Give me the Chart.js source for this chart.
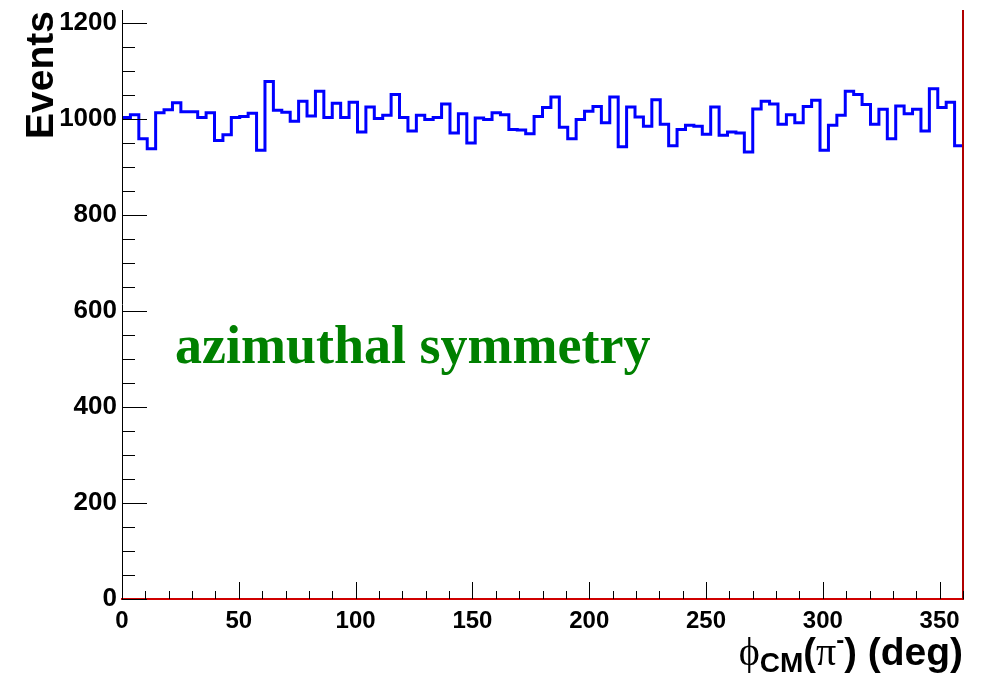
<!DOCTYPE html>
<html>
<head>
<meta charset="utf-8">
<script src="https://cdn.jsdelivr.net/npm/chart.js@4.4.1/dist/chart.umd.min.js"></script>
<style>
html,body{margin:0;padding:0;background:#fff;}
#wrap{width:984px;height:673px;position:relative;}
</style>
</head>
<body>
<div id="wrap"><canvas id="c" width="984" height="673"></canvas></div>
<script>
// ---- data ----
const xRange = [0, 360];           // phi_CM in degrees
const yRange = [0, 1227];
const xTickValues = [0, 50, 100, 150, 200, 250, 300, 350];
const yTickValues = [0, 200, 400, 600, 800, 1000, 1200];
const binContents = [
  1003, 1009, 959, 938, 1013, 1019, 1034, 1015, 1015, 1003,
  1013, 955, 967, 1003, 1005, 1012, 935, 1078, 1018, 1014,
  995, 1037, 1006, 1058, 1003, 1033, 1003, 1035, 973, 1025,
  1001, 1008, 1051, 1003, 975, 1008, 999, 1003, 1031, 971,
  1011, 950, 1002, 999, 1013, 1009, 978, 977, 969, 1005,
  1024, 1046, 983, 959, 999, 1016, 1026, 992, 1046, 942,
  1025, 1004, 985, 1040, 989, 944, 978, 987, 985, 968,
  1025, 966, 973, 971, 931, 1021, 1037, 1031, 989, 1009,
  992, 1026, 1039, 935, 987, 1008, 1058, 1051, 1030, 989,
  1020, 959, 1027, 1011, 1020, 975, 1063, 1024, 1035, 944
];
const yTitle = "Events";
const annotation = "azimuthal symmetry";
const annotationPos = {x: 22.7, y: 492};

// histogram step points built from bin edges
const nBins = binContents.length;
const binWidth = (xRange[1] - xRange[0]) / nBins;
const stepPoints = binContents.map((v, i) => ({x: xRange[0] + i * binWidth, y: v}));
stepPoints.push({x: xRange[1], y: binContents[nBins - 1]});

const SANS = "'Liberation Sans', Arial, Helvetica, sans-serif";
const SERIF = "'Liberation Serif', 'Times New Roman', 'DejaVu Serif', serif";

const decorPlugin = {
  id: 'decor',
  afterDraw(chart) {
    const ctx = chart.ctx;
    const xs = chart.scales.x, ys = chart.scales.y;
    const a = chart.chartArea;
    ctx.save();
    // right frame line (dark red)
    ctx.strokeStyle = '#b00000';
    ctx.lineWidth = 2;
    ctx.beginPath();
    ctx.moveTo(a.right, a.top);
    ctx.lineTo(a.right, a.bottom + 1);
    ctx.stroke();
    // ticks drawn inside (ROOT style)
    ctx.strokeStyle = '#000';
    ctx.lineWidth = 1;
    ctx.beginPath();
    for (let v = ys.min; v <= ys.max + 1e-9; v += 50) {
      const py = Math.round(ys.getPixelForValue(v)) + 0.5;
      const len = (v % 200 === 0) ? 25 : 13;
      ctx.moveTo(a.left, py);
      ctx.lineTo(a.left + len, py);
    }
    for (let v = xs.min; v <= xs.max + 1e-9; v += 10) {
      const px = Math.round(xs.getPixelForValue(v)) + 0.5;
      const len = (v % 50 === 0) ? 17 : 8;
      ctx.moveTo(px, a.bottom);
      ctx.lineTo(px, a.bottom - len);
    }
    ctx.stroke();
    // left axis line
    ctx.beginPath();
    ctx.moveTo(a.left + 0.5, a.top);
    ctx.lineTo(a.left + 0.5, a.bottom);
    ctx.stroke();

    // annotation text
    ctx.fillStyle = '#008000';
    ctx.font = "bold 54px " + SERIF;
    ctx.textAlign = 'left';
    ctx.textBaseline = 'alphabetic';
    ctx.fillText(annotation, xs.getPixelForValue(annotationPos.x), ys.getPixelForValue(annotationPos.y));

    // y title
    ctx.fillStyle = '#000';
    ctx.save();
    ctx.translate(53, a.top + 1);
    ctx.rotate(-Math.PI / 2);
    ctx.font = "bold 39px " + SANS;
    ctx.textAlign = 'right';
    ctx.textBaseline = 'alphabetic';
    ctx.fillText(yTitle, 0, 0);
    ctx.restore();

    // x title: phi_CM(pi^-) (deg), right aligned to frame
    const base = 665;
    const pieces = [
      {t: "\u03D5", f: "40px " + SERIF, dy: 0},
      {t: "CM", f: "bold 28px " + SANS, dy: 7},
      {t: "(", f: "bold 38px " + SANS, dy: 0},
      {t: "\u03C0", f: "40px " + SERIF, dy: 0},
      {t: "-", f: "bold 24px " + SANS, dy: -17},
      {t: ")", f: "bold 38px " + SANS, dy: 0},
      {t: " (deg)", f: "bold 39px " + SANS, dy: 0}
    ];
    let total = 0;
    pieces.forEach(p => { ctx.font = p.f; p.w = ctx.measureText(p.t).width; total += p.w; });
    let x = a.right - total;
    ctx.textAlign = 'left';
    pieces.forEach(p => { ctx.font = p.f; ctx.fillText(p.t, x, base + p.dy); x += p.w; });
    ctx.restore();
  }
};

new Chart(document.getElementById('c'), {
  type: 'line',
  data: {
    datasets: [{
      data: stepPoints,
      stepped: 'before',
      borderColor: '#0000ff',
      borderWidth: 3,
      pointRadius: 0,
      fill: false,
      tension: 0
    }]
  },
  options: {
    responsive: false,
    animation: false,
    layout: {padding: {top: 10, right: 21, left: 0, bottom: 0}},
    plugins: {legend: {display: false}, tooltip: {enabled: false}},
    scales: {
      x: {
        type: 'linear',
        min: xRange[0], max: xRange[1],
        afterFit(s) { s.height = 74; s.paddingLeft = 0; s.paddingRight = 0; },
        afterBuildTicks(s) { s.ticks = xTickValues.map(v => ({value: v})); },
        grid: {display: false, drawTicks: false},
        border: {display: true, color: '#d00000', width: 2},
        ticks: {
          padding: 8,
          color: '#000',
          font: {family: SANS, weight: 'bold', size: 24},
          maxRotation: 0,
          autoSkip: false,
          callback: v => String(v)
        }
      },
      y: {
        type: 'linear',
        min: yRange[0], max: yRange[1],
        afterFit(s) { s.width = 122; s.paddingTop = 0; s.paddingBottom = 0; },
        afterBuildTicks(s) { s.ticks = yTickValues.map(v => ({value: v})); },
        grid: {display: false, drawTicks: false},
        border: {display: false},
        ticks: {
          padding: 5,
          color: '#000',
          font: {family: SANS, weight: 'bold', size: 26},
          callback: v => String(v)
        }
      }
    }
  },
  plugins: [decorPlugin]
});
</script>
</body>
</html>
